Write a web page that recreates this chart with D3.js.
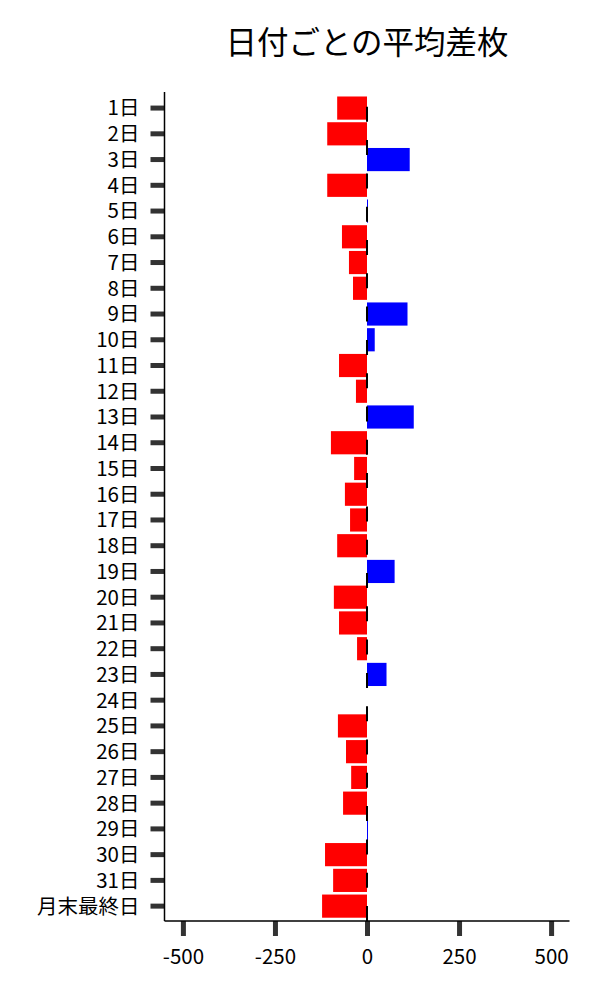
<!DOCTYPE html>
<html>
<head>
<meta charset="utf-8">
<script src="https://cdn.jsdelivr.net/npm/d3@7"></script>
<style>
  html, body { margin: 0; padding: 0; background: #fff; }
  svg { display: block; font-family: "Noto Sans CJK JP", "Noto Sans", sans-serif; }
</style>
</head>
<body>
<svg id="chart" width="600" height="1000"></svg>
<script>
const categories = ["1日","2日","3日","4日","5日","6日","7日","8日","9日","10日",
  "11日","12日","13日","14日","15日","16日","17日","18日","19日","20日",
  "21日","22日","23日","24日","25日","26日","27日","28日","29日","30日","31日","月末最終日"];
const values = [-81, -108, 116, -108, 1, -68, -49, -38, 110, 21,
  -76, -30, 127, -98, -35, -60, -46, -81, 75, -90,
  -76, -27, 53, 0, -79, -57, -43, -65, 1, -114, -92, -122];
const xTicks = [-500, -250, 0, 250, 500];
const title = "日付ごとの平均差枚";

const data = categories.map((c, i) => ({ cat: c, val: values[i] }));

const svg = d3.select("#chart");
const mLeft = 164.5, mRight = 569.5, mTop = 92, mBottom = 921;

const x = d3.scaleLinear().domain([-550, 550]).range([mLeft, mRight]);
const y = d3.scaleBand().domain(categories).range([95.2, 919]).paddingInner(0.1).paddingOuter(0.05);

// bars
svg.append("g").selectAll("rect").data(data).join("rect")
  .attr("x", d => x(Math.min(0, d.val)))
  .attr("y", d => y(d.cat))
  .attr("width", d => Math.max(Math.abs(x(d.val) - x(0)), d.val !== 0 ? 1 : 0))
  .attr("height", y.bandwidth())
  .attr("fill", d => d.val >= 0 ? "#0000ff" : "#ff0000");

// dashed zero line (drawn from bottom up)
svg.append("line")
  .attr("x1", x(0)).attr("x2", x(0))
  .attr("y1", mBottom).attr("y2", mTop)
  .attr("stroke", "#000").attr("stroke-width", 2)
  .attr("stroke-dasharray", "15,18.3");

// y axis
const yAxis = d3.axisLeft(y).tickSize(14).tickPadding(11);
const gy = svg.append("g").attr("transform", `translate(${mLeft},0)`).call(yAxis);
gy.select(".domain").remove();
gy.selectAll(".tick line").attr("stroke", "#333").attr("stroke-width", 5);
gy.selectAll(".tick text").attr("font-size", 20.5).attr("fill", "#000").attr("dy", "0.36em")
  .attr("font-family", "'Noto Sans CJK JP', sans-serif");
svg.append("line").attr("x1", mLeft).attr("x2", mLeft).attr("y1", mTop).attr("y2", mBottom)
  .attr("stroke", "#000").attr("stroke-width", 1.5);

// x axis
const xAxis = d3.axisBottom(x).tickValues(xTicks).tickSize(15).tickPadding(13).tickFormat(d => String(d));
const gx = svg.append("g").attr("transform", `translate(0,${mBottom})`).call(xAxis);
gx.select(".domain").remove();
gx.selectAll(".tick line").attr("stroke", "#333").attr("stroke-width", 5);
gx.selectAll(".tick text").attr("font-size", 20.5).attr("fill", "#000")
  .attr("font-family", "'Noto Sans CJK JP', sans-serif");
svg.append("line").attr("x1", mLeft).attr("x2", mRight).attr("y1", mBottom).attr("y2", mBottom)
  .attr("stroke", "#000").attr("stroke-width", 1.5);

// title
svg.append("text")
  .attr("x", (mLeft + mRight) / 2).attr("y", 54)
  .attr("text-anchor", "middle")
  .attr("font-size", 31.5)
  .attr("fill", "#000")
  .text(title);
</script>
</body>
</html>
